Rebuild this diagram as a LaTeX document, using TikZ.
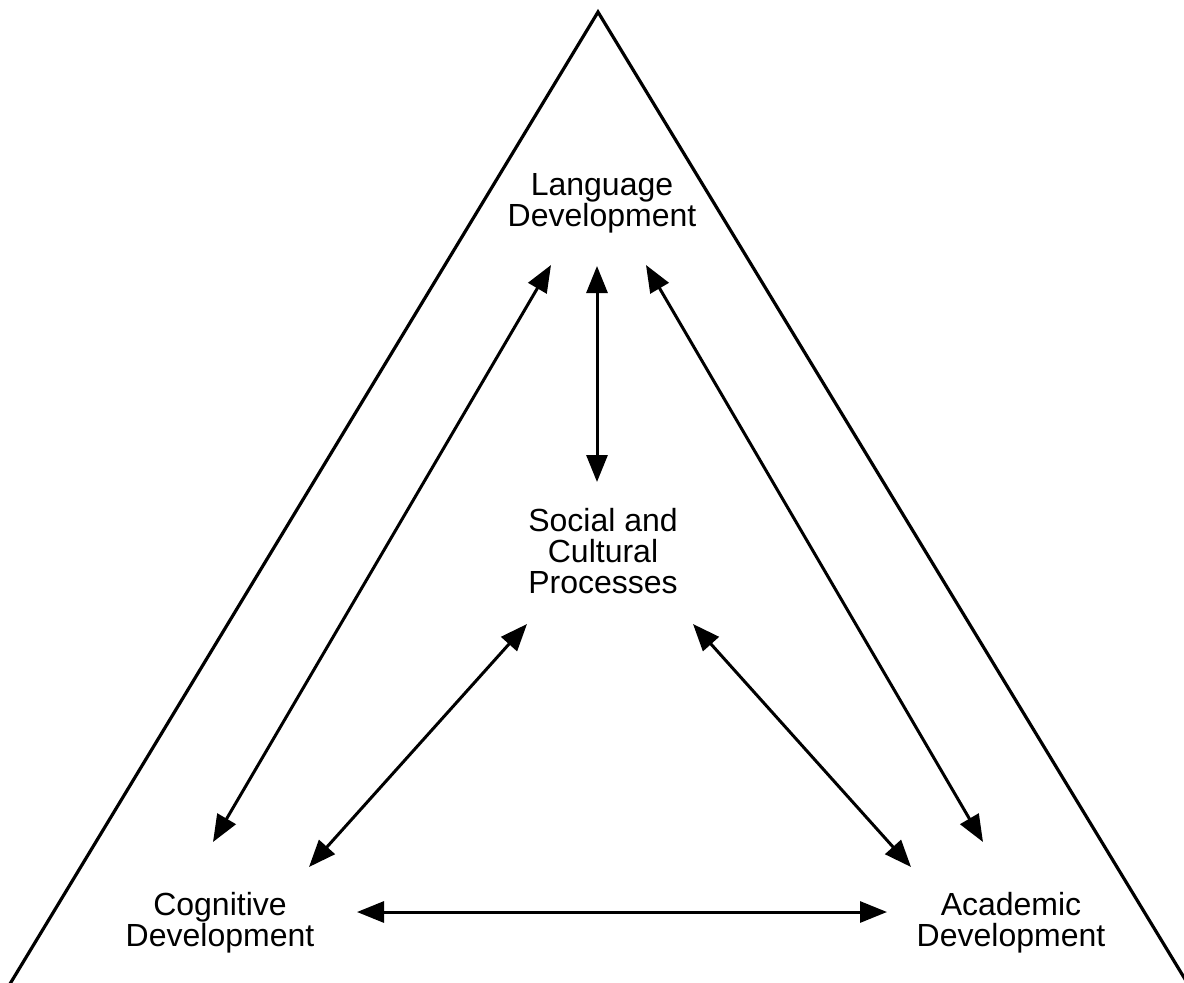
\documentclass[tikz,border=0pt]{standalone}
\usepackage{fontspec}
\setmainfont{Liberation Sans}
\usepackage{tikz}
\usetikzlibrary{calc}
\usetikzlibrary{arrows.meta}

\begin{document}
\begin{tikzpicture}[x=1pt, y=-1pt,
    area/.style={align=center, inner sep=0pt, font=\fontsize{32}{30.8}\selectfont},
    link/.style={<->, >={Triangle[length=27pt, width=21pt]}, line width=3pt}]
    \useasboundingbox (0, 0) rectangle (1184, 983);

    % outer triangle
    \begin{scope}
        \clip (0, 0) rectangle (1184, 983);
        \draw[line width=3.2pt] (6.3, 990) -- (598, 12) -- (1191.6, 990);
    \end{scope}

    \node[area] (lang) at (602, 203) {Language\\Development};
    \node[area] (soc) at (603, 551) {Social and\\Cultural\\Processes};
    \node[area] (cog) at (220, 923) {Cognitive\\Development};
    \node[area] (acad) at (1011, 923) {Academic\\Development};

    \draw[link] ($(lang) + (-5, 63)$) -- ($(soc) + (-6, -69)$);
    \draw[link] ($(lang) + (-51, 62)$) -- ($(cog) + (-7, -81)$);
    \draw[link] ($(lang) + (44, 62)$) -- ($(acad) + (-28, -81)$);
    \draw[link] ($(soc) + (-76, 73)$) -- ($(cog) + (89, -56)$);
    \draw[link] ($(soc) + (90, 73)$) -- ($(acad) + (-100, -56)$);
    \draw[link] ($(cog) + (137, -11)$) -- ($(acad) + (-124, -11)$);
\end{tikzpicture}
\end{document}
